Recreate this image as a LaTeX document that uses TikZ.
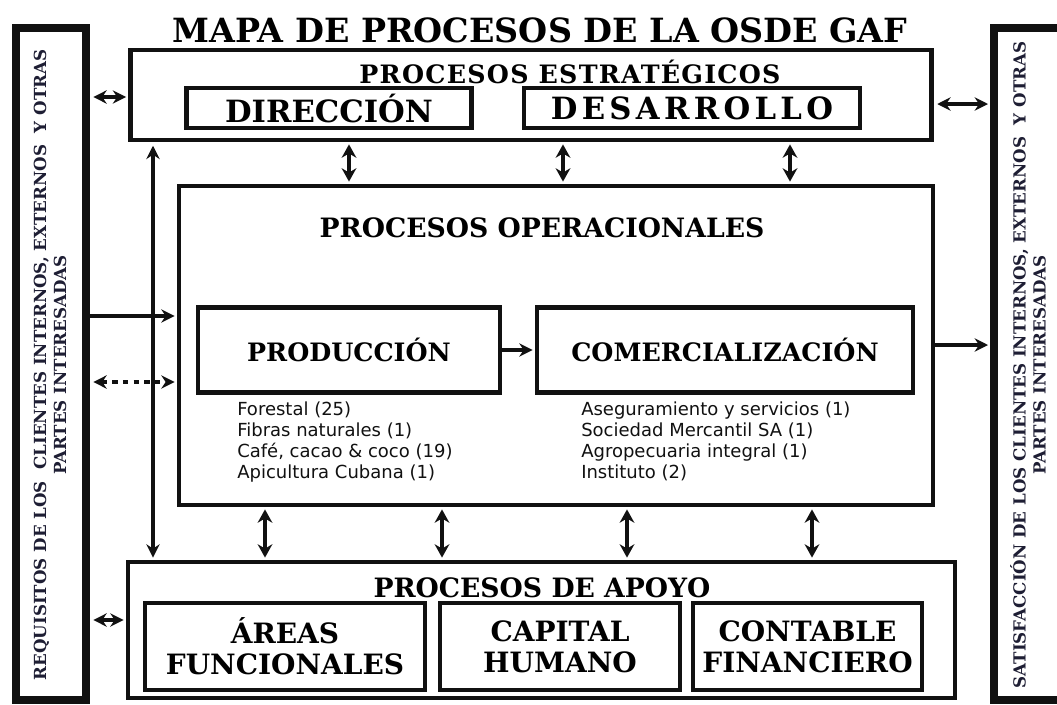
\documentclass[tikz,border=0pt]{standalone}
\usepackage{fontspec}
\setmainfont{DejaVu Serif}
\newfontfamily\listfont{DejaVu Sans}
\usetikzlibrary{arrows.meta,positioning,calc}
\definecolor{ink}{HTML}{111111}
\definecolor{sidecol}{HTML}{1E1E34}
\newcommand{\fs}[1]{\fontsize{#1}{1.2\dimexpr#1pt\relax}\selectfont}

\begin{document}
\begin{tikzpicture}[
  x=0.75pt, y=-0.75pt, line join=miter,
  sz/.style 2 args={minimum width=#1*0.75pt, minimum height=#2*0.75pt},
  frame/.style={draw=ink, line width=3.6pt, inner sep=0pt, align=center},
  sidebox/.style={draw=ink, line width=6pt, inner sep=0pt},
  ttl/.style={font=\bfseries\fs{25}, inner sep=0pt},
  hdr/.style={font=\bfseries\fs{20}, inner sep=0pt},
  big/.style={font=\bfseries\fs{23}},
  mid/.style={font=\bfseries\fs{19}},
  sub/.style={font=\bfseries\fontsize{21}{23}\selectfont},
  side/.style={font=\bfseries\fontsize{12.5}{15}\selectfont, text=sidecol,
    rotate=90, align=center, inner sep=0pt},
  lst/.style={font=\listfont\fontsize{13.5}{15.6}\selectfont, text=ink,
    align=left, anchor=north west, inner sep=0pt},
  tip/.tip={Stealth[length=10pt,width=10pt]},
  vtip/.tip={Stealth[length=10pt,width=11pt]},
  arr/.style={draw=ink, line width=2.8pt, -tip, shorten >=1.5pt},
  dbl/.style={draw=ink, line width=2.8pt, tip-tip, shorten >=1.5pt, shorten <=2.5pt},
  vdbl/.style={draw=ink, line width=3pt, vtip-vtip, shorten >=1.5pt, shorten <=1.5pt}]

\useasboundingbox (0,0) rectangle (1057,704);

\node[ttl] (title) at (540,30) {MAPA DE PROCESOS DE LA OSDE GAF};

% ============================================== side columns
\node[sidebox, sz={70}{672}] (req) at (51,364) {};
\node[side] (reqtxt) at (50,365)
  {REQUISITOS DE LOS \ CLIENTES INTERNOS, EXTERNOS \ Y OTRAS\\PARTES INTERESADAS};
\node[sidebox, sz={70}{672}] (sat) at (1029,364) {};
\node[side] (sattxt) at (1028,365)
  {SATISFACCIÓN DE LOS CLIENTES INTERNOS, EXTERNOS \ Y OTRAS\\PARTES INTERESADAS};

% ============================================== strategic
\node[frame, sz={801}{90}] (strat) at (531,95) {};
\node[hdr, font=\bfseries\fs{19}\addfontfeature{LetterSpace=5}] (strattl) at (570,72)
  {PROCESOS ESTRATÉGICOS};
\node[frame, big, sz={285}{40}] (dir) at (329,108) {DIRECCIÓN};
\node[frame, big, sz={336}{40}] (des) at (692,108)
  {\addfontfeature{LetterSpace=14}DESARROLLO};

% ============================================== operational
\node[frame, sz={754}{319}] (oper) at (556,345.5) {};
\node[hdr] (opertl) at (542,228) {PROCESOS OPERACIONALES};
\node[frame, mid, sz={302}{85}] (prod) at (349,350) {PRODUCCIÓN};
\node[frame, mid, sz={376}{85}] (com) at (725,350) {COMERCIALIZACIÓN};
\node[lst] (prodlst) at (237,402)
  {Forestal (25)\\Fibras naturales (1)\\Café, cacao \& coco (19)\\Apicultura Cubana (1)};
\node[lst] (comlst) at (581,402)
  {Aseguramiento y servicios (1)\\Sociedad Mercantil SA (1)\\Agropecuaria integral (1)\\Instituto (2)};

% ============================================== support
\node[frame, sz={827}{136}] (sup) at (541.5,630) {};
\node[hdr] (suptl) at (542,588) {PROCESOS DE APOYO};
\node[frame, sub, sz={280}{87}] (areas) at (285,646.5) {ÁREAS\\FUNCIONALES};
\node[frame, sub, sz={240}{87}] (cap) at (560,646.5) {CAPITAL\\HUMANO};
\node[frame, sub, sz={229}{87}] (cont) at (807.5,646.5) {CONTABLE\\FINANCIERO};

% ---------------------------------------------- connectors
\draw[dbl] (req.east |- 0,97) -- (strat.west |- 0,97);
\draw[arr] (req.east |- 0,316) -- (oper.west |- 0,316);
\draw[dbl, dash pattern=on 4pt off 4pt] (req.east |- 0,382) -- (oper.west |- 0,382);
\draw[dbl] (req.east |- 0,620) -- (sup.west |- 0,620);
\draw[dbl] (strat.south -| 153,0) -- (sup.north -| 153,0);
\draw[dbl] (strat.east |- 0,104) -- (sat.west |- 0,104);
\draw[arr] (oper.east |- 0,345) -- (sat.west |- 0,345);
\draw[arr] (prod) -- (com);
\foreach \xx in {349,563,790}
  \draw[vdbl] (strat.south -| \xx,0) -- (oper.north -| \xx,0);
\foreach \xx in {265,442,627,812}
  \draw[vdbl] (oper.south -| \xx,0) -- (sup.north -| \xx,0);

\end{tikzpicture}
\end{document}
